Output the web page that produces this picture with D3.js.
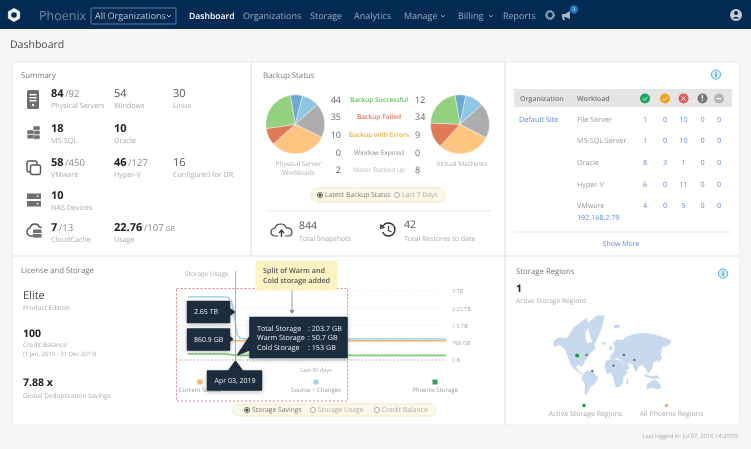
<!DOCTYPE html>
<html>
<head>
<meta charset="utf-8">
<script src="https://cdn.jsdelivr.net/npm/d3@7"></script>
<style>
html,body{margin:0;padding:0;background:#f6f6f6;overflow:hidden}
svg{display:block;font-family:"Open Sans",sans-serif;text-rendering:geometricPrecision;filter:blur(0.3px)}
</style>
</head>
<body>
<script>
// nav
var navItems = ["Dashboard","Organizations","Storage","Analytics","Manage","Billing","Reports"];

// summary panel, rows of [value, total, unit, label]
var summaryRows = [
  [["84","/92","","Physical Servers"],["54","","","Windows"],["30","","","Linux"]],
  [["18","","","MS-SQL"],["10","","","Oracle"]],
  [["58","/450","","VMware"],["46","/127","","Hyper-V"],["16","","","Configured for DR"]],
  [["10","","","NAS Devices"]],
  [["7","/13","","CloudCache"],["22.76","/107"," GB","Usage"]]
];

// backup status
var backupLabels = ["Backup Successful","Backup Failed","Backup with Errors","Window Expired","Never Backed up"];
var backupColors = ["#5cc25c","#e8735a","#f2ad45","#888888","#bbbbbb"];
var physicalCounts = [44,35,10,0,2];
var vmCounts = [12,34,9,0,8];
var pieColors = ["#6ea9d3","#8fc6e3","#adadad","#fdc57f","#df7b59","#92d27f"];
var physicalPie = [6.7,9.4,19,31,9.4,24.5];
var vmPie = [6,10,19.5,29,14,21.5];

// workload table
var workloads = ["File Server","MS-SQL Server","Oracle","Hyper-V","VMware"];
var workloadCounts = [
  [1,0,10,0,0],
  [1,0,10,0,0],
  [8,3,1,0,0],
  [6,0,11,0,0],
  [4,0,5,0,0]
];
var statusColors = ["#1fa463","#f2a31c","#e05a5a","#777777","#b5b5b5"];

// storage chart, values in TB
var days = [0,5,10,13,14,15,16,17,18,20,30,50,70,89];
var sourceChanges = [2.75,2.75,2.75,2.74,2.72,2.55,1.9,1.1,0.95,0.92,0.91,0.91,0.91,0.91];
var currentSource = [0.84,0.84,0.84,0.84,0.84,0.84,0.84,0.84,0.84,0.84,0.84,0.84,0.84,0.84];
var phoenixStorage = [0.26,0.26,0.26,0.26,0.25,0.22,0.21,0.2,0.2,0.2,0.2,0.2,0.2,0.2];
var tickValues = [0,0.75,1.5,2.25,3];
var tickLabels = ["0 B","768 GB","1.5 TB","2.25 TB","3 TB"];

// rough land outlines, lon/lat
var land = [
  [[-165,64.5],[-151,69],[-127,68.5],[-117,73],[-108,77],[-89,80],[-70,82],[-63,78],[-73,74],[-73,68],[-67,62.5],[-51,64.5],[-44,55],[-57,47.5],[-65,39],[-75,28],[-82,13],[-94,17.5],[-101,13],[-91,-1],[-79,-6],[-86,-8],[-105,6],[-118,22],[-124,39],[-132,53],[-146,60],[-163,57.5]],
  [[-65,80],[-41,83],[-17,83],[-27,77],[-36,70],[-48,60],[-58,68],[-65,76.5]],
  [[-27,63.5],[-15,64],[-17,60.5],[-27,60.5]],
  [[-5,57.5],[2,59],[4,52],[-5,52]],
  [[-1,42.5],[7,47.5],[11,56],[5,62.5],[16,67],[32,66.5],[45,70],[69,72.5],[97,73.5],[136,71],[174,65.5],[166,60],[147,56.5],[143,46],[136,31],[121,24],[118,8.5],[107,-8],[99,8.5],[90,17.5],[80,15],[71,-4],[61,20],[48,22],[54,8.5],[40,2],[29,31],[16,35.5],[5,31],[-2,33]],
  [[-19,17.5],[-12,31],[7,33.5],[29,29],[40,4],[48,-1],[35,-19.5],[35,-32],[23,-41],[13,-41],[7,-19.5],[2,-6],[-12,-6]],
  [[-79,-6],[-65,2],[-51,-3],[-36,-18],[-46,-33.5],[-60,-42.5],[-70,-56],[-76,-53],[-74.5,-36],[-84,-19.5]],
  [[102,-36],[117,-26],[128,-23.5],[140,-34],[145,-42.5],[131,-46],[117,-42.5],[102,-46]],
  [[97,-8],[117,-15],[131,-10.5],[140,-19.5],[117,-21],[97,-15]],
  [[140,42.5],[147,39],[140,26.5],[134,26.5]],
  [[45,-25],[50,-19.5],[48,-36],[43,-36]],
  [[7,78.6],[26,79],[23,77],[10,76.5]]
];
var regionActive = [[-97,41]];
var regionOther = [[-70,42.5],[-53.5,1],[7,16],[37,42.5],[67,31]];

var W = 751, H = 449;
var svg = d3.select("body").append("svg").attr("width",W).attr("height",H);

function txt(x,y,s,size,color,opt){
  opt = opt||{};
  return svg.append("text").attr("x",x).attr("y",y).attr("dy","0.35em")
    .attr("font-size",size).attr("fill",color)
    .attr("font-weight",opt.weight||400)
    .attr("text-anchor",opt.anchor||"start")
    .text(s);
}

// nav bar
svg.append("rect").attr("width",W).attr("height",29).attr("fill","#032a52");
var logo = svg.append("g").attr("transform","translate(14,15)");
logo.append("path").attr("d","M0-6.500L5.600-3.200V3.200L0 6.500-5.600 3.200V-3.200Z").attr("fill","#eef3f8").attr("stroke","#eef3f8").attr("stroke-linejoin","round");
logo.append("circle").attr("r",2.8).attr("fill","#032a52");
txt(39,15.5,"Phoenix",12.5,"#6f88a2");
svg.append("rect").attr("x",91).attr("y",8).attr("width",85).attr("height",16).attr("rx",1)
  .attr("fill","none").attr("stroke","#5d7f9f");
txt(95,15.5,"All Organizations",9,"#b4c3d2");
svg.append("path").attr("d","M167 15l2 2 2-2").attr("fill","none").attr("stroke","#b4c3d2");
var navX = [189,243,310,354,404,458,503];
navItems.forEach(function(n,i){
  txt(navX[i],15.5,n,i==0?8.6:9,i==0?"#ffffff":"#98aabd",{weight:i==0?600:400});
});
[441,489].forEach(function(x){
  svg.append("path").attr("d","M"+x+" 15l2 2 2-2").attr("fill","none").attr("stroke","#98aabd");
});
svg.append("circle").attr("cx",550).attr("cy",15).attr("r",3.3).attr("fill","none").attr("stroke","#a8b8c8").attr("stroke-width",1.3);
svg.append("circle").attr("cx",550).attr("cy",15).attr("r",4.6).attr("fill","none").attr("stroke","#a8b8c8").attr("stroke-width",1).attr("stroke-dasharray","1.500 1.200");
svg.append("path").attr("d","M562 14h3l5-3v8l-5-2h-1l1 3h-2l-1-3z").attr("fill","#a8b8c8");
svg.append("circle").attr("cx",574).attr("cy",9.5).attr("r",4.2).attr("fill","#1f72c4");
txt(574,9.5,"3",5,"#ffffff",{anchor:"middle"});
svg.append("circle").attr("cx",736).attr("cy",15).attr("r",6).attr("fill","#c3ccd6");
svg.append("circle").attr("cx",736).attr("cy",13).attr("r",2).attr("fill","#032a52");
svg.append("path").attr("d","M732.500 18.500q3.500-3.500 7 0z").attr("fill","#032a52");

txt(10,44,"Dashboard",10.5,"#444444");

// card and dividers
svg.append("rect").attr("x",12).attr("y",62).attr("width",728).attr("height",363).attr("rx",4)
  .attr("fill","#ffffff").attr("stroke","#ebebeb");
[[251,62,251,256],[505,62,505,425],[12,256,740,256]].forEach(function(l){
  svg.append("line").attr("x1",l[0]).attr("y1",l[1]).attr("x2",l[2]).attr("y2",l[3])
    .attr("stroke","#e2e2e2").attr("stroke-width",1.2);
});

// summary
txt(21,75.5,"Summary",7.8,"#777777");
var colX = [51,114,173], rowY = [93,128,162,195,227];
summaryRows.forEach(function(row,r){
  row.forEach(function(c,i){
    var first = (r==0 && i==0) || r==1 || r==3 || (r==2 && i<2) || r==4;
    var t = svg.append("text").attr("x",colX[i]).attr("y",rowY[r]).attr("dy","0.35em").attr("font-size",11);
    t.append("tspan").attr("font-weight",first?700:400).attr("fill",first?"#222222":"#555555").text(c[0]);
    if(c[1]) t.append("tspan").attr("dx",1.5).attr("font-size",9.5).attr("fill","#888888").text(c[1]);
    if(c[2]) t.append("tspan").attr("font-size",7).attr("fill","#888888").text(c[2]);
    txt(colX[i],rowY[r]+12.5,c[3],7.2,"#aaaaaa");
  });
});
// summary icons
var ic = "#6f6f6f";
svg.append("rect").attr("x",27).attr("y",90).attr("width",12).attr("height",19).attr("rx",1.5).attr("fill",ic);
[94,97,100].forEach(function(y){svg.append("rect").attr("x",29.5).attr("y",y).attr("width",7).attr("height",1.4).attr("fill","#fff");});
svg.append("circle").attr("cx",33).attr("cy",105).attr("r",1.2).attr("fill","#fff");
[[33,126],[33,130.5],[33,135],[27,130],[27,134.5]].forEach(function(p){
  svg.append("rect").attr("x",p[0]).attr("y",p[1]).attr("width",7).attr("height",4.2).attr("rx",1).attr("fill",ic).attr("stroke","#fff").attr("stroke-width",.5);
});
svg.append("rect").attr("x",27).attr("y",161).attr("width",10).attr("height",11).attr("rx",2).attr("fill","none").attr("stroke","#555").attr("stroke-width",1.4);
svg.append("rect").attr("x",30.5).attr("y",165).attr("width",10).attr("height",9.5).attr("rx",2).attr("fill","#fff").attr("stroke","#555").attr("stroke-width",1.4);
[193.5,201].forEach(function(y){
  svg.append("rect").attr("x",27).attr("y",y).attr("width",14).attr("height",5.5).attr("fill",ic);
  svg.append("circle").attr("cx",37.5).attr("cy",y+2.7).attr("r",.9).attr("fill","#fff");
});
svg.append("path").attr("d","M34 236h-3q-4-.5-4-4 0-3.500 3-4 1-4 5-4 3.500 0 4.500 3 1.500 0 2 1")
  .attr("fill","none").attr("stroke","#555").attr("stroke-width",1.3);
[229.5,234].forEach(function(y){svg.append("rect").attr("x",33).attr("y",y).attr("width",8.5).attr("height",3.6).attr("fill",ic);});

// backup pies
var pie = d3.pie().sort(null).startAngle(-10*Math.PI/180).endAngle(350*Math.PI/180);
var arc = d3.arc().innerRadius(0).outerRadius(29.5);
[[295.3,physicalPie],[460,vmPie]].forEach(function(p){
  svg.append("g").attr("transform","translate("+p[0]+",124.3)")
    .selectAll("path").data(pie(p[1])).join("path")
    .attr("d",arc).attr("fill",function(d,i){return pieColors[i];})
    .attr("stroke","#ffffff").attr("stroke-width",.4);
});
txt(263,75.5,"Backup Status",7.8,"#777777");
txt(298.5,164,"Physical Server",6.6,"#aaaaaa",{anchor:"middle"});
txt(298.5,173,"Workloads",6.6,"#aaaaaa",{anchor:"middle"});
txt(462,164,"Virtual Machines",6.6,"#aaaaaa",{anchor:"middle"});
var backupY = d3.scalePoint().domain(d3.range(5)).range([99.5,170]);
backupLabels.forEach(function(l,i){
  txt(341,backupY(i),physicalCounts[i],9,"#666666",{anchor:"end"});
  txt(379,backupY(i),l,6.6,backupColors[i],{anchor:"middle",weight:i<3?600:400});
  txt(415,backupY(i),vmCounts[i],9,"#666666");
});

function pill(x,y,w,h,items){
  svg.append("rect").attr("x",x).attr("y",y).attr("width",w).attr("height",h).attr("rx",h/2)
    .attr("fill","#fdf9e8").attr("stroke","#efe8c8");
  items.forEach(function(it,i){
    var cy = y+h/2;
    svg.append("circle").attr("cx",it[0]).attr("cy",cy).attr("r",2.6)
      .attr("fill","#fff").attr("stroke",i==0?"#555":"#999").attr("stroke-width",.8);
    if(i==0) svg.append("circle").attr("cx",it[0]).attr("cy",cy).attr("r",1.5).attr("fill","#444");
    txt(it[0]+5,cy,it[1],6.8,i==0?"#777777":"#aaaaaa");
  });
}
pill(311,188,134,14,[[320,"Latest Backup Status"],[397,"Last 7 Days"]]);
svg.append("line").attr("x1",266).attr("x2",491).attr("y1",211).attr("y2",211).attr("stroke","#e6e6e6");

svg.append("path").attr("d","M278 236h-3q-4-.5-4-4 0-3.500 4-4 1-4 6-4 4 0 5.500 4 5-.5 5.500 4 0 4-4 4h-3")
  .attr("fill","none").attr("stroke","#444").attr("stroke-width",1.2);
svg.append("path").attr("d","M281.500 237v-6M279 233l2.500-3 2.500 3").attr("fill","none").attr("stroke","#444").attr("stroke-width",1.4);
txt(299,225,"844",10.5,"#555555");
txt(299,238.5,"Total Snapshots",7,"#aaaaaa");
svg.append("path").attr("d","M383 226a6.500 6.500 0 1 1 -.5 6").attr("fill","none").attr("stroke","#333").attr("stroke-width",1.4);
svg.append("path").attr("d","M381 225l3 2.500-3.500 1zM388.500 226v4.500l3 1.500").attr("fill","none").attr("stroke","#333").attr("stroke-width",1.2);
txt(404,224,"42",10.5,"#555555");
txt(404,238.5,"Total Restores to date",7,"#aaaaaa");

function info(x,y){
  svg.append("circle").attr("cx",x).attr("cy",y).attr("r",4.6).attr("fill","#d6eef9").attr("stroke","#5ab0dc").attr("stroke-width",1);
  txt(x,y,"i",7,"#2f8fc4",{anchor:"middle",weight:700});
}

// workload table
info(716,74.5);
svg.append("rect").attr("x",514).attr("y",89).attr("width",218).attr("height",18).attr("fill","#e5e5e5");
txt(520,98.5,"Organization",7,"#777777",{weight:600});
txt(577,98.5,"Workload",7,"#777777",{weight:600});
var statusX = [645,665,683.5,702.5,719];
statusColors.forEach(function(c,i){
  svg.append("circle").attr("cx",statusX[i]).attr("cy",98.5).attr("r",5).attr("fill",c);
  if(i<2) svg.append("path").attr("d","M"+(statusX[i]-2.2)+" 98.5l1.700 1.700 2.800-3").attr("fill","none").attr("stroke","#fff");
  if(i==2) svg.append("path").attr("d","M"+(statusX[i]-2)+" 96.500l4 4m0-4l-4 4").attr("fill","none").attr("stroke","#fff");
  if(i==3) txt(statusX[i],98.5,"!",8,"#fff",{anchor:"middle",weight:700});
  if(i==4) svg.append("rect").attr("x",statusX[i]-2.5).attr("y",98).attr("width",5).attr("height",1.2).attr("fill","#fff");
});
var link = "#5d8bd2";
txt(519,119,"Default Site",7.3,link);
var tableY = [119,140.5,162.5,184,205.5];
workloads.forEach(function(w,r){
  txt(577,tableY[r],w,7.2,"#999999");
  workloadCounts[r].forEach(function(v,c){
    txt(statusX[c],tableY[r],v,7.2,link,{anchor:"middle"});
  });
});
txt(577,217,"192.168.2.79",7.2,link);
svg.append("line").attr("x1",514).attr("x2",732).attr("y1",232).attr("y2",232).attr("stroke","#e6e6e6");
txt(621,243.5,"Show More",7,link,{anchor:"middle"});

// license
txt(21,270.5,"License and Storage",7.8,"#777777");
txt(23,295,"Elite",11,"#444444");
txt(23,308,"Product Edition",6.5,"#aaaaaa");
txt(23,333,"100",10.5,"#222222",{weight:700});
txt(23,345,"Credit Balance",6.5,"#aaaaaa");
txt(23,354,"(1 Jan, 2019 - 31 Dec 2019)",6,"#aaaaaa");
txt(23,382,"7.88 x",10.5,"#222222",{weight:700});
txt(23,396,"Global Deduplication Savings",6.5,"#aaaaaa");

// storage chart
var x = d3.scaleLinear().domain([0,89]).range([188,446]);
var y = d3.scaleLinear().domain([0,3]).range([360,291]);
svg.append("g").selectAll("line").data(tickValues).join("line")
  .attr("x1",176).attr("x2",446)
  .attr("y1",function(d){return y(d);}).attr("y2",function(d){return y(d);})
  .attr("stroke",function(d){return d==0?"#bbbbbb":"#eeeeee";})
  .attr("stroke-dasharray",function(d){return d==0?"2 1.500":"1.500 1.500";});
var yAxis = d3.axisRight(y).tickValues(tickValues)
  .tickFormat(function(d,i){return tickLabels[i];}).tickSize(0).tickPadding(0);
var ga = svg.append("g").attr("transform","translate(452,0)").call(yAxis);
ga.select(".domain").remove();
ga.selectAll("text").attr("font-size",5.5).attr("fill","#aaaaaa").attr("font-family","'Open Sans',sans-serif");
var line = d3.line().x(function(d,i){return x(days[i]);}).y(function(d){return y(d);});
[[currentSource,"#f7b27a"],[sourceChanges,"#a6d3e6"],[phoenixStorage,"#7ecb7a"]].forEach(function(s){
  svg.append("path").attr("d",line(s[0])).attr("fill","none").attr("stroke",s[1]).attr("stroke-width",1.6);
});
txt(185,274,"Storage Usage",6.5,"#aaaaaa");
svg.append("line").attr("x1",235.5).attr("x2",235.5).attr("y1",271).attr("y2",362).attr("stroke","#9a9a9a").attr("stroke-width",.8);
txt(316,370,"Last 90 days",5.5,"#aaaaaa",{anchor:"middle"});
[[200,"#f7b27a","Current Source"],[316,"#a6d3e6","Source + Changes"],[435,"#2f9e5f","Phoenix Storage"]].forEach(function(l){
  svg.append("rect").attr("x",l[0]-2.5).attr("y",379.5).attr("width",5).attr("height",5).attr("fill",l[1]);
  txt(l[0],390,l[2],6,"#999999",{anchor:"middle"});
});
svg.append("rect").attr("x",176.5).attr("y",288.5).attr("width",171).attr("height",112.5)
  .attr("fill","none").attr("stroke","#e5767d").attr("stroke-width",.9).attr("stroke-dasharray","2 2");

// callouts
var tipFill = "#1f2d3d";
var shadow = svg.append("defs").append("filter").attr("id","sh").attr("x","-20%").attr("y","-20%").attr("width","140%").attr("height","150%");
shadow.append("feDropShadow").attr("dx",0).attr("dy",1.5).attr("stdDeviation",2).attr("flood-opacity",.25);
function tip(d){
  svg.append("path").attr("d",d).attr("fill",tipFill).attr("stroke",tipFill).attr("stroke-width",1.5)
    .attr("stroke-linejoin","round").attr("filter","url(#sh)");
}
tip("M187.500 301.500h42v7l5 3.500-5 3.500v7h-42z");
txt(194,312,"2.65 TB",7,"#e8edf2");
tip("M187.500 329h42v7.500l3 2.500-3 2.500v8.500h-42z");
txt(194,339.5,"860.9 GB",7,"#e8edf2");
tip("M250 317.500h97v40h-97v-8l-12 5 12-18z");
var tipRows = [["Total Storage",": 203.7 GB"],["Warm Storage",": 50.7 GB"],["Cold Storage",": 153 GB"]];
tipRows.forEach(function(r,i){
  txt(257,328+i*9.8,r[0],7.2,"#e8edf2");
  txt(308,328+i*9.8,r[1],7.2,"#e8edf2");
});
tip("M207.500 371h21l7-9.500 7 9.500h19v19h-54z");
txt(214.5,380.5,"Apr 03, 2019",7,"#e8edf2");

svg.append("line").attr("x1",292).attr("x2",292).attr("y1",290).attr("y2",311).attr("stroke","#888888").attr("stroke-width",.8);
svg.append("path").attr("d","M289.500 310h5l-2.500 4z").attr("fill","#888888");
svg.append("rect").attr("x",256).attr("y",261).attr("width",81).attr("height",29).attr("fill","#fdf2c4").attr("stroke","#f3e8b4").attr("stroke-width",.5);
txt(263,270,"Split of Warm and",7.2,"#555555",{weight:600});
txt(263,280.5,"Cold storage added",7.2,"#555555",{weight:600});

pill(233,404,203,12,[[247,"Storage Savings"],[313,"Storage Usage"],[377,"Credit Balance"]]);

// storage regions
txt(516,271,"Storage Regions",7.8,"#777777");
info(723,273.5);
txt(516,288,"1",10.5,"#222222",{weight:700});
txt(516,301,"Active Storage Regions",6.7,"#aaaaaa");
var proj = d3.geoMercator().scale(20).translate([611,371.3]);
var outline = d3.line().x(function(d){return proj(d)[0];}).y(function(d){return proj(d)[1];}).curve(d3.curveLinearClosed);
svg.append("g").selectAll("path").data(land).join("path").attr("d",outline).attr("fill","#c6d9ed");
svg.append("g").selectAll("circle").data(regionOther).join("circle")
  .attr("cx",function(d){return proj(d)[0];}).attr("cy",function(d){return proj(d)[1];})
  .attr("r",1.2).attr("fill","#6b6b6b");
svg.append("g").selectAll("circle").data(regionActive).join("circle")
  .attr("cx",function(d){return proj(d)[0];}).attr("cy",function(d){return proj(d)[1];})
  .attr("r",2).attr("fill","#14a03c");
svg.append("circle").attr("cx",584).attr("cy",405.5).attr("r",1.8).attr("fill","#14a03c");
svg.append("circle").attr("cx",666.5).attr("cy",405.5).attr("r",1.8).attr("fill","#f4a582");
txt(585.5,413.5,"Active Storage Regions",7,"#aaaaaa",{anchor:"middle"});
txt(671.5,413.5,"All Phoenix Regions",7,"#aaaaaa",{anchor:"middle"});
txt(738,436,"Last logged in: Jul 07, 2016 14:20:05",5.8,"#aaaaaa",{anchor:"end"});
</script>
</body>
</html>
